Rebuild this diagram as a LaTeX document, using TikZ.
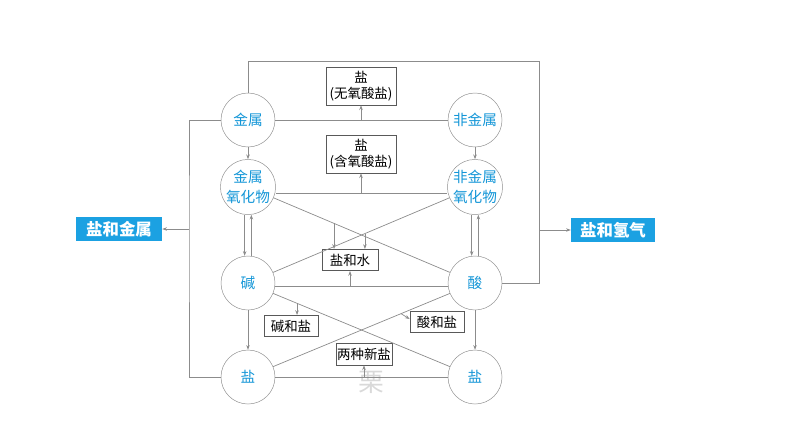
\documentclass[tikz,border=0pt]{standalone}
\usepackage{fontspec}
\setmainfont{Noto Sans CJK SC}
\usetikzlibrary{positioning,arrows.meta,calc}
\definecolor{labelblue}{RGB}{20,150,215}
\definecolor{tagblue}{RGB}{27,161,226}
\definecolor{linegray}{RGB}{140,140,140}

\begin{document}
\begin{tikzpicture}[
    x=0.03cm, y=-0.03cm,
    node distance=2cm, on grid,
    >={Stealth[length=4pt,width=3pt]},
    matter/.style={draw=linegray, circle, minimum size=1.62cm, inner sep=0pt, align=center, text=labelblue, font=\fontsize{12.5pt}{17pt}\selectfont},
    result/.style={draw=black!65, line width=0.6pt, rectangle, minimum width=1.62cm, minimum height=0.64cm, inner sep=1pt, align=center, font=\fontsize{11.5pt}{14pt}\selectfont},
    tag/.style={fill=tagblue, text=white, minimum width=2.58cm, minimum height=0.72cm, inner sep=1pt, font=\fontsize{14pt}{16pt}\selectfont\bfseries},
    link/.style={draw=linegray, line width=0.6pt}
]
\useasboundingbox (0,0) rectangle (794,447);

% Watermark
\node[text=black!15, font=\fontsize{22pt}{22pt}\selectfont] (mark) at (371,382) {栗};

% Substances
\node[matter] (jinshu) at (248,120) {金属};
\node[matter, right=6.81cm of jinshu] (feijinshu) {非金属};
\node[matter, below=2.01cm of jinshu] (jsyhw) {金属\\氧化物};
\node[matter, below=2.01cm of feijinshu] (fjsyhw) {非金属\\氧化物};
\node[matter, below=2.88cm of jsyhw] (jian) {碱};
\node[matter, below=2.88cm of fjsyhw] (suan) {酸};
\node[matter, below=2.82cm of jian] (yanL) {盐};
\node[matter, below=2.82cm of suan] (yanR) {盐};

% Products
\node[result, minimum width=2.1cm, minimum height=1.14cm] (wuyang) at (361,86) {盐\\(无氧酸盐)};
\node[result, minimum width=2.1cm, minimum height=1.14cm] (hanyang) at (361,154) {盐\\(含氧酸盐)};
\node[result, minimum width=1.68cm] (yanshui) at (350,260) {盐和水};
\node[result] (jianyan) at (291,326) {碱和盐};
\node[result] (suanyan) at (437,322) {酸和盐};
\node[result, minimum height=0.66cm] (xinyan) at (364,354) {两种新盐};

% Side tags
\node[tag] (yjs) at (119,229) {盐和金属};
\node[tag, minimum width=2.52cm] (yqq) at (613,230) {盐和氢气};

% Outer loops
\coordinate (busL) at (189,229);
\coordinate (busR) at (539,61);
\draw[link] (jinshu.west) -| (busL) |- (yanL.west);
\draw[link, ->] (busL) -- (yjs.east);
\draw[link] (jinshu.north) |- (busR) |- (suan.east);
\draw[link, ->] (busR |- yqq) -- (yqq.west);

% Top rows
\draw[link] (jinshu) -- (feijinshu);
\draw[link, ->] (wuyang.south |- jinshu) -- (wuyang.south);
\draw[link, ->] (jinshu) -- (jsyhw);
\draw[link, ->] (feijinshu) -- (fjsyhw);
\coordinate (oxline) at ([yshift=-0.18cm]jsyhw.east);
\draw[link] (oxline) -- ([yshift=-0.18cm]fjsyhw.west);
\draw[link, ->] (hanyang.south |- oxline) -- (hanyang.south);

% Oxides and bases / acids
\draw[link, ->] ([xshift=-0.1cm]jsyhw.south) -- ([xshift=-0.1cm]jian.north);
\draw[link, ->] ([xshift=0.1cm]jian.north) -- ([xshift=0.1cm]jsyhw.south);
\draw[link, ->] ([xshift=-0.1cm]fjsyhw.south) -- ([xshift=-0.1cm]suan.north);
\draw[link, ->] ([xshift=0.1cm]suan.north) -- ([xshift=0.1cm]fjsyhw.south);

% Salt and water
\draw[link] (jsyhw) -- (suan);
\draw[link] (fjsyhw) -- (jian);
\coordinate (x1) at ($(jsyhw)!0.379!(suan)$);
\coordinate (x2) at ($(fjsyhw)!0.485!(jian)$);
\draw[link, ->] (x1) -- (x1 |- yanshui.north);
\draw[link, ->] (x2) -- (x2 |- yanshui.north);
\coordinate (acidline) at ([yshift=-0.09cm]jian.east);
\draw[link] (acidline) -- ([yshift=-0.09cm]suan.west);
\draw[link, ->] (yanshui.south |- acidline) -- (yanshui.south);

% Bottom rows
\draw[link, ->] (jian) -- (yanL);
\draw[link, ->] (suan) -- (yanR);
\draw[link] (jian) -- (yanR);
\draw[link] (suan) -- (yanL);
\coordinate (x3) at ($(jian)!0.216!(yanR)$);
\coordinate (x4) at ($(suan)!0.326!(yanL)$);
\draw[link, ->] (x3) -- (x3 |- jianyan.north);
\draw[link, ->] (x4) -- ([yshift=0.09cm]suanyan.west);
\draw[link] (yanL) -- (yanR);
\draw[link, ->] (xinyan.south |- yanL) -- (xinyan.south);

\end{tikzpicture}
\end{document}
